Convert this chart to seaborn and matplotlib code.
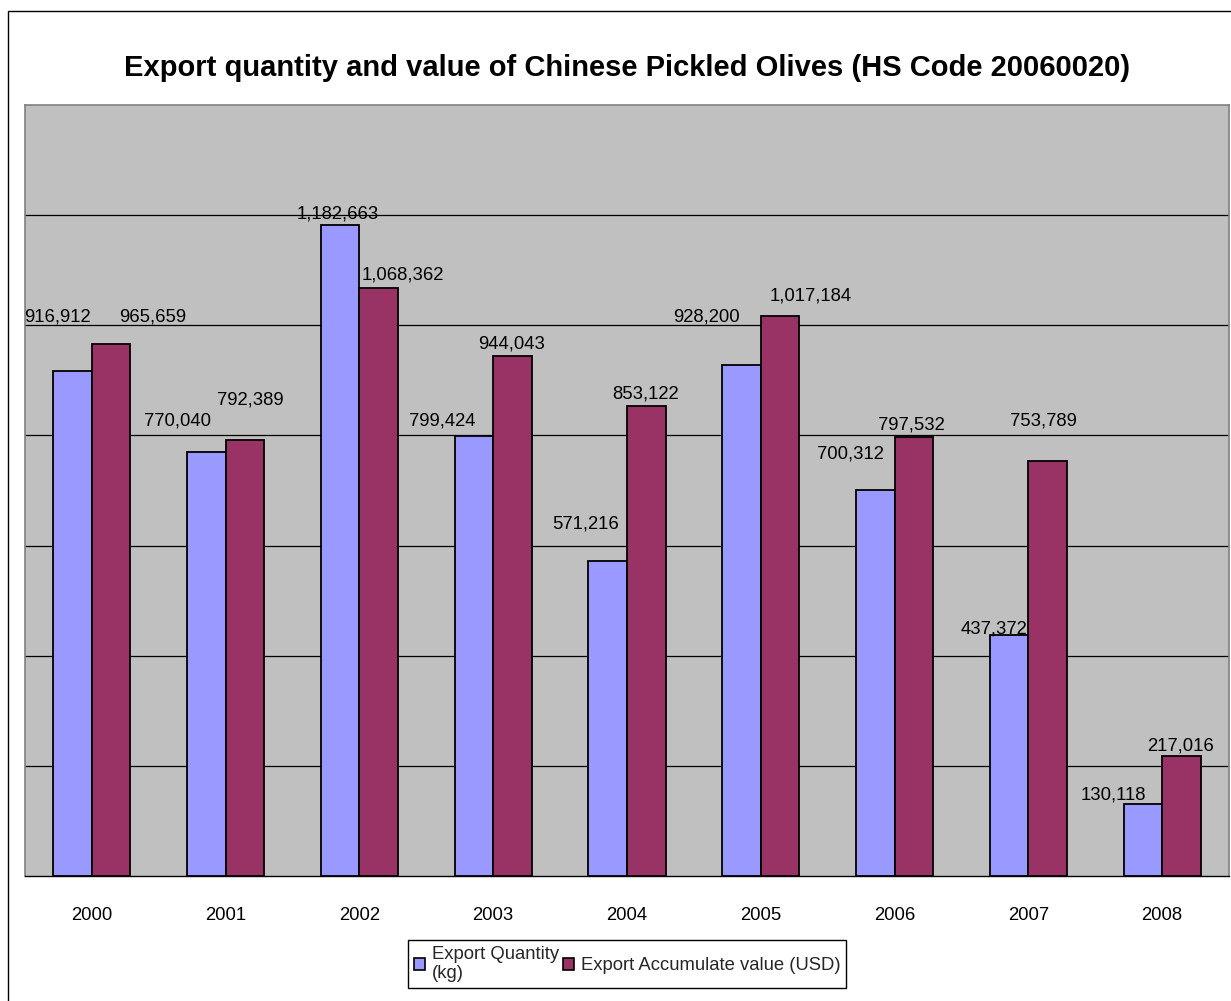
import numpy as np
import pandas as pd
import matplotlib
matplotlib.use("Agg")
import matplotlib.pyplot as plt
from matplotlib.patches import Rectangle
import seaborn as sns

# Data
years = ["2000", "2001", "2002", "2003", "2004", "2005", "2006", "2007", "2008"]
quantity_kg = [916912, 770040, 1182663, 799424, 571216, 928200, 700312, 437372, 130118]
value_usd = [965659, 792389, 1068362, 944043, 853122, 1017184, 797532, 753789, 217016]
series_names = ["Export Quantity\n(kg)", "Export Accumulate value (USD)"]
title = "Export quantity and value of Chinese Pickled Olives (HS Code 20060020)"

# Label offsets (pixels) from the top-centre of each bar
qty_label_dx = [-15, -29, -2, -32, -22, -35, -25, -15, -29]
qty_label_dy = [54, 31, 11, 15, 37, 48, 36, 6, 9]
val_label_dx = [42, 5, 24, -1, -1, 31, -2, -4, -1]
val_label_dy = [27, 40, 13, 12, 12, 20, 12, 40, 10]

colors = ["#9999FF", "#993366"]

sns.set_theme(style="white")
plt.rcParams["font.family"] = ["Liberation Sans", "DejaVu Sans"]

df = pd.DataFrame({
    "year": years * 2,
    "value": quantity_kg + value_usd,
    "series": [series_names[0]] * len(years) + [series_names[1]] * len(years),
})

W, H = 1231, 1001
fig = plt.figure(figsize=(W / 100, H / 100), dpi=100)
ax = fig.add_axes([25 / W, 1 - 876 / H, (1229 - 25) / W, (876 - 105) / H])
ax.set_facecolor("#C0C0C0")

sns.barplot(data=df, x="year", y="value", hue="series", order=years,
            hue_order=series_names, palette=colors, width=0.576,
            edgecolor="black", linewidth=1.3, saturation=1, ax=ax,
            legend=True, zorder=3)

ax.set_xlim(-0.5, len(years) - 0.5)
ax.set_ylim(0, 1400000)
ax.set_yticks(np.arange(200000, 1400000, 200000))
ax.set_yticklabels([])
ax.tick_params(axis="y", length=0)
ax.yaxis.grid(True, color="black", linewidth=0.9)
ax.set_axisbelow(True)
ax.set_xlabel("")
ax.set_ylabel("")

# Category labels centred, tick marks at category boundaries
ax.set_xticks(np.arange(len(years)))
ax.set_xticklabels(years, fontsize=13.3, color="black")
ax.tick_params(axis="x", which="major", length=0, pad=22)
ax.set_xticks(np.arange(-0.5, len(years)), minor=True)
ax.tick_params(axis="x", which="minor", length=6, width=1, color="black",
               direction="out")

for side in ["top", "left", "right"]:
    ax.spines[side].set_color("#808080")
    ax.spines[side].set_linewidth(1.2)
ax.spines["bottom"].set_color("black")
ax.spines["bottom"].set_linewidth(1)

# Value labels
containers = ax.containers
for cont, vals, dxs, dys in [(containers[0], quantity_kg, qty_label_dx, qty_label_dy),
                             (containers[1], value_usd, val_label_dx, val_label_dy)]:
    for bar, v, dx, dy in zip(cont, vals, dxs, dys):
        cx = bar.get_x() + bar.get_width() / 2
        ax.annotate(f"{v:,}", xy=(cx, bar.get_height()), xytext=(dx, dy),
                    textcoords="offset pixels", ha="center", va="center",
                    fontsize=13.3, color="black", zorder=5)

fig.text(627 / W, 1 - 68 / H, title, ha="center", va="center",
         fontsize=21, fontweight="bold", color="black")

# Legend
leg = ax.get_legend()
handles = leg.legend_handles
leg.remove()
lg = fig.legend(handles, series_names, loc="upper left",
                bbox_to_anchor=(408 / W, 1 - 940 / H), ncol=2,
                fontsize=13.3, frameon=True, fancybox=False, framealpha=1,
                edgecolor="black", borderpad=0.3, handlelength=0.6,
                handleheight=0.6, handletextpad=0.4, columnspacing=0.2,
                borderaxespad=0, labelspacing=0.3)
lg.get_frame().set_linewidth(1)
for h in lg.legend_handles:
    h.set_edgecolor("black")
    h.set_linewidth(1.2)

# Outer chart border
fig.patches.append(Rectangle((8 / W, -0.05), 1.2, 1 - 11 / H + 0.05,
                             transform=fig.transFigure, fill=False,
                             edgecolor="black", linewidth=1))

fig.savefig("out.png", dpi=100, facecolor="white")
